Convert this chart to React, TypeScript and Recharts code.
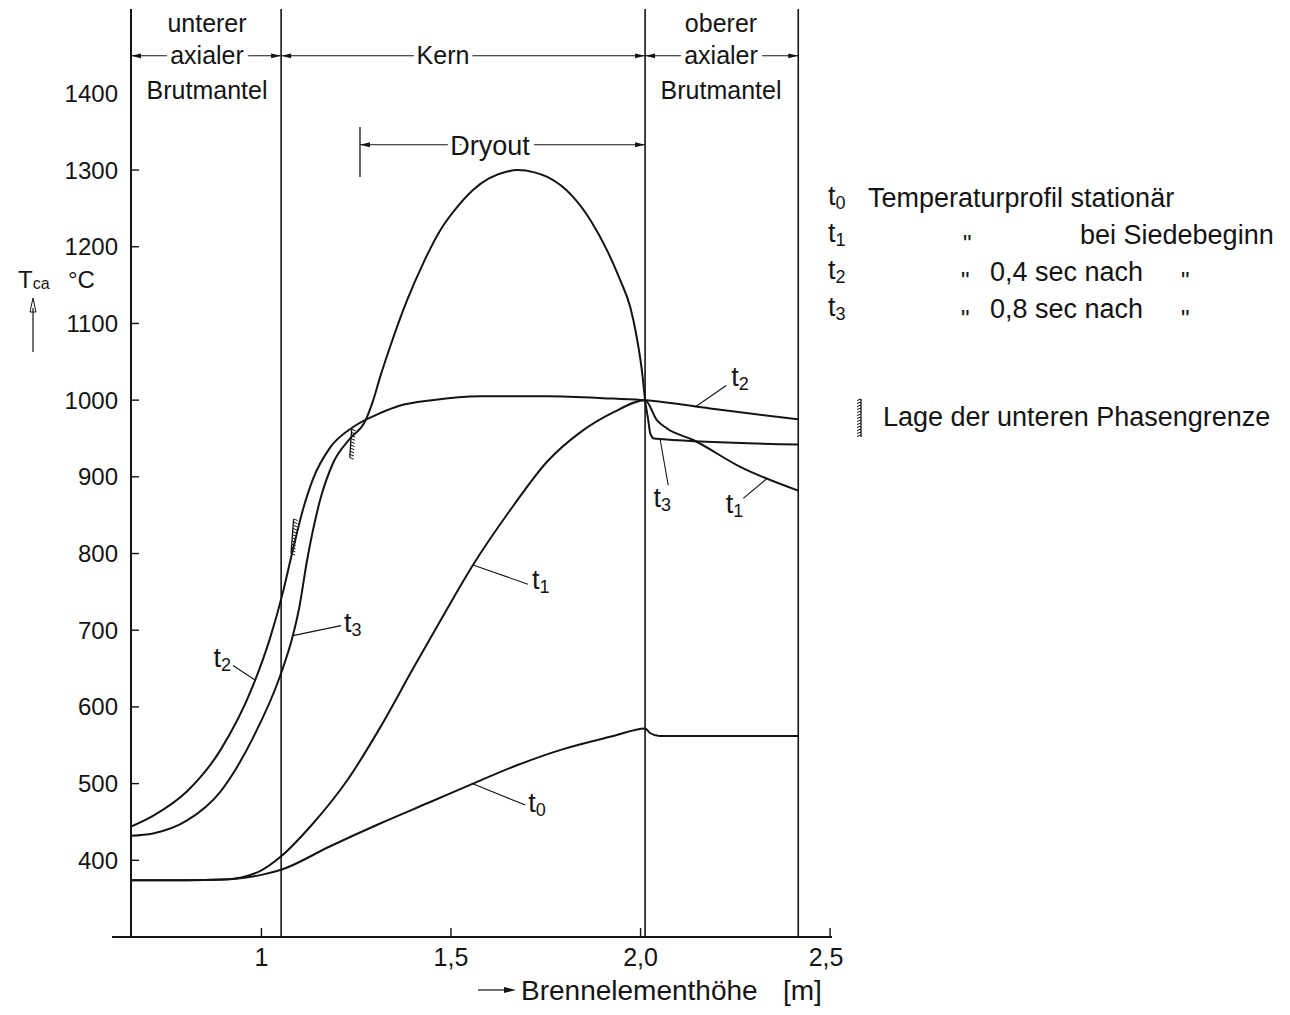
import React from "react";
import { LineChart, Line, XAxis, YAxis, ReferenceLine } from "recharts";

// Brennelementhöhe [m] -> Hüllrohrtemperatur T_ca [°C]
const t0Hoehe = [0.656, 0.8, 0.9, 0.95, 1.0, 1.054, 1.18, 1.313, 1.45, 1.558, 1.664, 1.796, 1.928, 2.012, 2.025, 2.05, 2.416];
const t0Temp = [374, 374, 375, 377, 381, 388, 418, 448, 477, 500, 522, 545, 562, 572, 566, 562, 562];

const t1Hoehe = [0.656, 0.8, 0.9, 0.95, 1.0, 1.049, 1.136, 1.226, 1.313, 1.4, 1.49, 1.558, 1.664, 1.754, 1.841, 1.928, 2.012, 2.043, 2.07, 2.139, 2.263, 2.416];
const t1Temp = [374, 374, 375, 378, 387, 404, 448, 504, 573, 650, 728, 785, 862, 920, 958, 984, 1000, 974, 963, 948, 913, 882];

const t2Hoehe = [0.656, 0.714, 0.804, 0.891, 0.978, 1.023, 1.057, 1.083, 1.11, 1.136, 1.181, 1.242, 1.313, 1.366, 1.45, 1.577, 1.754, 1.928, 2.012, 2.2, 2.416];
const t2Temp = [444, 458, 490, 543, 628, 690, 750, 805, 858, 897, 938, 965, 983, 993, 1000, 1005, 1005, 1002, 1000, 988, 975];

const t3Hoehe = [0.656, 0.714, 0.804, 0.891, 0.978, 1.049, 1.083, 1.1, 1.12, 1.155, 1.189, 1.234, 1.273, 1.295, 1.313, 1.339, 1.384, 1.43, 1.471, 1.52, 1.558, 1.6, 1.648, 1.675, 1.72, 1.754, 1.822, 1.87, 1.912, 1.945, 1.973, 1.99, 2.005, 2.012, 2.02, 2.026, 2.035, 2.06, 2.416];
const t3Temp = [432, 435, 452, 489, 560, 640, 693, 730, 790, 870, 918, 950, 972, 1000, 1030, 1069, 1130, 1182, 1221, 1254, 1274, 1289, 1298, 1300, 1297, 1291, 1265, 1233, 1195, 1158, 1121, 1082, 1033, 1000, 975, 956, 950, 949, 942];

const xTicks = [1, 1.5, 2.0, 2.5];
const xTickLabels = ["1", "1,5", "2,0", "2,5"];
const yTicks = [400, 500, 600, 700, 800, 900, 1000, 1100, 1200, 1300, 1400];

// Zonengrenzen: unterer Brutmantel | Kern | oberer Brutmantel
const grenzen = [1.052, 2.012, 2.416];
const dryoutBeginn = 1.26;

// Lage der unteren Phasengrenze (Strichmarken auf t2)
const phasengrenzen = [
  [1.078, 800, 1.085, 845],
  [1.233, 925, 1.238, 962],
];

const FONT = "'Liberation Sans', Arial, sans-serif";
const INK = "#141414";

const toRows = (xs: number[], ys: number[]) => xs.map((x, i) => ({ x, t: ys[i] }));

const YTick = (props: any) => {
  const { x, y, payload } = props;
  const ax = x + 13;
  return (
    <g>
      {payload.value < 1400 && <line x1={ax} x2={ax + 8} y1={y} y2={y} stroke={INK} strokeWidth={1.4} />}
      <text x={x} y={y} textAnchor="end" dominantBaseline="central" fontSize={24} fontFamily={FONT} fill={INK}>
        {payload.value}
      </text>
    </g>
  );
};

const XTick = (props: any) => {
  const { x, y, payload } = props;
  const ay = y - 20;
  const i = xTicks.indexOf(payload.value);
  return (
    <g>
      <line x1={x} x2={x} y1={ay} y2={ay - 9} stroke={INK} strokeWidth={1.4} />
      <text x={i === 3 ? x - 4 : x} y={y} textAnchor="middle" dominantBaseline="central" fontSize={25} fontFamily={FONT} fill={INK}>
        {xTickLabels[i]}
      </text>
    </g>
  );
};

const pfeil = (p: any) => {
  const { x1, y1, x2, y2 } = p;
  const a = 10;
  const w = 2.4;
  return (
    <g>
      <line x1={x1} y1={y1} x2={x2} y2={y2} stroke={INK} strokeWidth={1.1} />
      <path d={`M${x1},${y1} L${x1 + a},${y1 - w} L${x1 + a},${y1 + w} Z`} fill={INK} />
      <path d={`M${x2},${y2} L${x2 - a},${y2 - w} L${x2 - a},${y2 + w} Z`} fill={INK} />
    </g>
  );
};

const schraffur = (p: any) => {
  const { x1, y1, x2, y2 } = p;
  const n = Math.max(3, Math.floor(Math.abs(y2 - y1) / 3));
  const zaehne = [];
  for (let i = 0; i <= n; i++) {
    const f = i / n;
    const x = x1 + (x2 - x1) * f;
    const y = y1 + (y2 - y1) * f;
    zaehne.push(<line key={i} x1={x} y1={y} x2={x + 4} y2={y + 1.5} stroke={INK} strokeWidth={1} />);
  }
  return (
    <g>
      <line x1={x1} y1={y1} x2={x2} y2={y2} stroke={INK} strokeWidth={1.3} />
      {zaehne}
    </g>
  );
};

// Hinweislinien zu den Kurvenbezeichnungen
const hinweise = [
  { von: [0.983, 635], nach: [0.925, 654], idx: "2", dx: -2, dy: -8, anchor: "end" },
  { von: [1.083, 693], nach: [1.21, 706], idx: "3", dx: 3, dy: -3, anchor: "start" },
  { von: [1.558, 785], nach: [1.703, 760], idx: "1", dx: 4, dy: -4, anchor: "start" },
  { von: [1.556, 500], nach: [1.696, 472], idx: "0", dx: 3, dy: -2, anchor: "start" },
  { von: [2.144, 991], nach: [2.226, 1019], idx: "2", dx: 5, dy: -9, anchor: "start" },
  { von: [2.052, 948], nach: [2.073, 889], idx: "3", dx: -6, dy: 13, anchor: "middle" },
  { von: [2.334, 898], nach: [2.271, 872], idx: "1", dx: 0, dy: 6, anchor: "end" },
];

const T = ({ idx, ...rest }: any) => (
  <text fontFamily={FONT} fill={INK} fontSize={27} dominantBaseline="central" {...rest}>
    t<tspan fontSize={18} dy={7}>{idx}</tspan>
  </text>
);

const hinweisShape = (h: any) => (p: any) => {
  const { x1, y1, x2, y2 } = p;
  return (
    <g>
      <line x1={x1} y1={y1} x2={x2} y2={y2} stroke={INK} strokeWidth={1.1} />
      <T idx={h.idx} x={x2 + h.dx} y={y2 + h.dy} textAnchor={h.anchor} />
    </g>
  );
};

const halo = { stroke: "#fff", strokeWidth: 9, paintOrder: "stroke" as const };

export default function App() {
  const serien = [
    toRows(t0Hoehe, t0Temp),
    toRows(t1Hoehe, t1Temp),
    toRows(t2Hoehe, t2Temp),
    toRows(t3Hoehe, t3Temp),
  ];
  const txt = { fontFamily: FONT, fill: INK, dominantBaseline: "central" as const };
  return (
    <div style={{ position: "relative", width: 1290, height: 1015, background: "#fff" }}>
      <style>{"body{margin:0}"}</style>
      <LineChart width={1290} height={1015} margin={{ top: 9, right: 458, bottom: 8, left: 11 }}>
        <XAxis
          type="number"
          dataKey="x"
          domain={[0.656, 2.505]}
          allowDataOverflow
          ticks={xTicks}
          interval={0}
          height={70}
          tickSize={0}
          tickMargin={20}
          tickLine={false}
          axisLine={{ stroke: INK, strokeWidth: 2 }}
          tick={(p: any) => <XTick {...p} />}
        />
        <YAxis
          type="number"
          domain={[300, 1510]}
          allowDataOverflow
          ticks={yTicks}
          interval={0}
          width={120}
          tickSize={0}
          tickMargin={13}
          tickLine={false}
          axisLine={{ stroke: INK, strokeWidth: 2 }}
          tick={(p: any) => <YTick {...p} />}
        />
        <ReferenceLine
          segment={[{ x: 0.606, y: 300 }, { x: 0.656, y: 300 }]}
          ifOverflow="visible"
          stroke={INK}
          strokeWidth={2}
        />
        {grenzen.map((g) => (
          <ReferenceLine key={g} x={g} stroke={INK} strokeWidth={1.6} />
        ))}
        <ReferenceLine segment={[{ x: 0.656, y: 1449 }, { x: grenzen[0], y: 1449 }]} shape={pfeil} />
        <ReferenceLine segment={[{ x: grenzen[0], y: 1449 }, { x: grenzen[1], y: 1449 }]} shape={pfeil} />
        <ReferenceLine segment={[{ x: grenzen[1], y: 1449 }, { x: grenzen[2], y: 1449 }]} shape={pfeil} />
        <ReferenceLine segment={[{ x: dryoutBeginn, y: 1333 }, { x: grenzen[1], y: 1333 }]} shape={pfeil} />
        <ReferenceLine
          segment={[{ x: dryoutBeginn, y: 1291 }, { x: dryoutBeginn, y: 1356 }]}
          stroke={INK}
          strokeWidth={1.3}
        />
        {phasengrenzen.map((s, i) => (
          <ReferenceLine key={"pg" + i} segment={[{ x: s[0], y: s[1] }, { x: s[2], y: s[3] }]} shape={schraffur} />
        ))}
        {serien.map((d, i) => (
          <Line
            key={"t" + i}
            data={d}
            dataKey="t"
            type="monotone"
            dot={false}
            activeDot={false}
            stroke={INK}
            strokeWidth={2}
            isAnimationActive={false}
          />
        ))}
        {hinweise.map((h, i) => (
          <ReferenceLine
            key={"h" + i}
            segment={[{ x: h.von[0], y: h.von[1] }, { x: h.nach[0], y: h.nach[1] }]}
            shape={hinweisShape(h)}
          />
        ))}
      </LineChart>
      <svg
        width={1290}
        height={1015}
        style={{ position: "absolute", left: 0, top: 0, pointerEvents: "none" }}
      >
        {/* Zonenbeschriftung oben */}
        <text {...txt} x={207} y={23} fontSize={25} textAnchor="middle">unterer</text>
        <text {...txt} {...halo} x={207} y={55} fontSize={25} textAnchor="middle">axialer</text>
        <text {...txt} x={207} y={90} fontSize={25} textAnchor="middle">Brutmantel</text>
        <text {...txt} {...halo} x={443} y={55} fontSize={25} textAnchor="middle">Kern</text>
        <text {...txt} x={721} y={23} fontSize={25} textAnchor="middle">oberer</text>
        <text {...txt} {...halo} x={721} y={55} fontSize={25} textAnchor="middle">axialer</text>
        <text {...txt} x={721} y={90} fontSize={25} textAnchor="middle">Brutmantel</text>
        <text {...txt} {...halo} x={490} y={146} fontSize={27} textAnchor="middle">Dryout</text>

        {/* y-Achsentitel */}
        <text {...txt} x={18} y={279} fontSize={24}>
          T<tspan fontSize={16} dy={4}>ca</tspan>
        </text>
        <text {...txt} x={68} y={279} fontSize={24}>°C</text>
        <line x1={33} y1={352} x2={33} y2={308} stroke={INK} strokeWidth={1.2} />
        <path d="M33,298 L30,312 L36,312 Z" fill="none" stroke={INK} strokeWidth={1} />

        {/* x-Achsentitel */}
        <line x1={478} y1={990} x2={508} y2={990} stroke={INK} strokeWidth={1.2} />
        <path d="M516,990 L504,987 L504,993 Z" fill={INK} />
        <text {...txt} x={521} y={990} fontSize={28}>Brennelementhöhe</text>
        <text {...txt} x={783} y={990} fontSize={28}>[m]</text>

        {/* Legende */}
        <T idx="0" x={828} y={196} />
        <text {...txt} x={868} y={198} fontSize={27}>Temperaturprofil stationär</text>
        <T idx="1" x={828} y={233} />
        <text {...txt} x={963} y={243} fontSize={24}>"</text>
        <text {...txt} x={1080} y={235} fontSize={27}>bei Siedebeginn</text>
        <T idx="2" x={828} y={270} />
        <text {...txt} x={961} y={280} fontSize={24}>"</text>
        <text {...txt} x={990} y={272} fontSize={27}>0,4 sec nach</text>
        <text {...txt} x={1181} y={280} fontSize={24}>"</text>
        <T idx="3" x={828} y={307} />
        <text {...txt} x={961} y={318} fontSize={24}>"</text>
        <text {...txt} x={990} y={309} fontSize={27}>0,8 sec nach</text>
        <text {...txt} x={1181} y={318} fontSize={24}>"</text>

        <line x1={861} y1={399} x2={861} y2={437} stroke={INK} strokeWidth={1.3} />
        {Array.from({ length: 13 }, (_, i) => (
          <line key={i} x1={861} y1={399 + i * 3} x2={857} y2={400.5 + i * 3} stroke={INK} strokeWidth={1} />
        ))}
        <text {...txt} x={883} y={417} fontSize={27}>Lage der unteren Phasengrenze</text>
      </svg>
    </div>
  );
}
